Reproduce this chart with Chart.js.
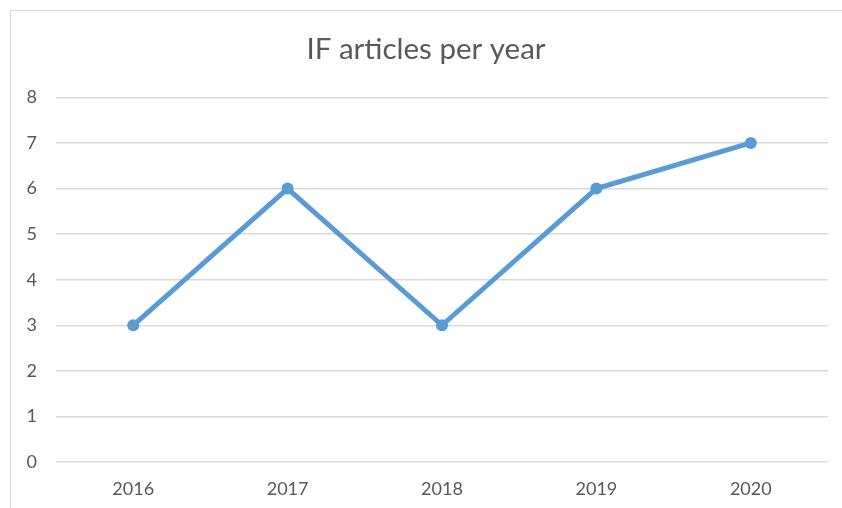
<!DOCTYPE html>
<html>
<head>
<meta charset="utf-8">
<script src="https://cdn.jsdelivr.net/npm/chart.js@4"></script>
<style>
  html, body { margin: 0; padding: 0; background: #fff; overflow: hidden; }
  #frame { position: absolute; left: 10px; top: 10px; width: 900px; height: 600px; border: 1px solid #d9d9d9; box-sizing: border-box; }
  #wrap { position: absolute; left: 0; top: 0; width: 842px; height: 508px; }
</style>
</head>
<body>
<div id="frame"></div>
<div id="wrap"><canvas id="c" width="842" height="508"></canvas></div>
<script>
const title = "IF articles per year";
const years = ["2016", "2017", "2018", "2019", "2020"];
const articles = [3, 6, 3, 6, 7];
const yTicks = [0, 1, 2, 3, 4, 5, 6, 7, 8];

const textColor = "#595959";
const lineColor = "#5b9bd5";

new Chart(document.getElementById("c"), {
  type: "line",
  data: {
    labels: years,
    datasets: [{
      label: "Articles",
      data: articles,
      borderColor: lineColor,
      backgroundColor: lineColor,
      borderWidth: 5,
      pointRadius: 6,
      pointHoverRadius: 6,
      pointBackgroundColor: lineColor,
      pointBorderWidth: 0,
      tension: 0
    }]
  },
  options: {
    responsive: false,
    animation: false,
    devicePixelRatio: 1,
    layout: { padding: { left: 24, right: 14, top: 0, bottom: 0 } },
    plugins: {
      legend: { display: false },
      tooltip: { enabled: false },
      title: {
        display: true,
        text: title,
        color: textColor,
        font: { family: "Lato", size: 29.5, weight: "normal" },
        padding: { top: 32, bottom: 30 }
      }
    },
    scales: {
      x: {
        offset: true,
        grid: { display: false, drawTicks: false },
        border: { display: false },
        ticks: { color: textColor, font: { family: "Lato", size: 18 }, padding: 16 },
        afterFit: s => { s.height = 46; }
      },
      y: {
        min: 0,
        max: 8,
        afterBuildTicks: s => { s.ticks = yTicks.map(v => ({ value: v })); },
        grid: { color: "#d9d9d9", lineWidth: 1.5, drawTicks: false },
        border: { display: false },
        ticks: { color: textColor, font: { family: "Lato", size: 18 }, padding: 19 },
        afterFit: s => { s.width = 32; }
      }
    }
  }
});
</script>
</body>
</html>
